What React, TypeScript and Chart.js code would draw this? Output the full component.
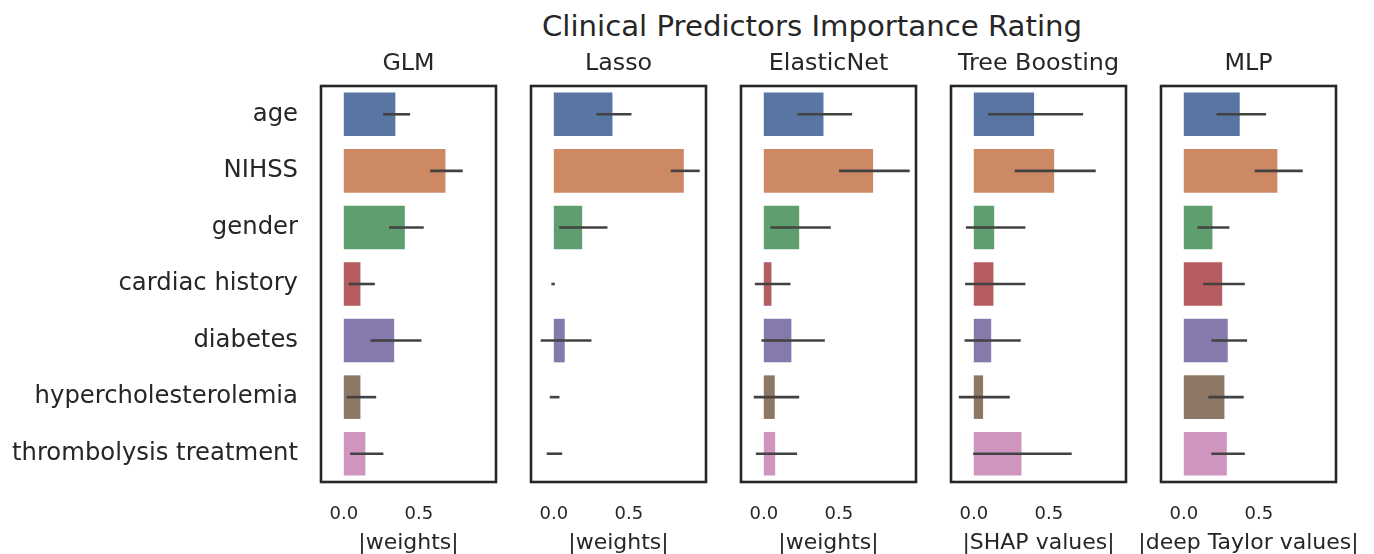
import React, { useEffect, useRef } from "react";
import { Chart, registerables } from "chart.js";

Chart.register(...registerables);

// ---------- data ----------
const categories = [
  "age",
  "NIHSS",
  "gender",
  "cardiac history",
  "diabetes",
  "hypercholesterolemia",
  "thrombolysis treatment",
];
const suptitle = "Clinical Predictors Importance Rating";
const panelTitles = ["GLM", "Lasso", "ElasticNet", "Tree Boosting", "MLP"];
const axisLabels = ["|weights|", "|weights|", "|weights|", "|SHAP values|", "|deep Taylor values|"];
const xTicks = [0, 0.5];

const glmMean = [0.344, 0.678, 0.407, 0.111, 0.336, 0.111, 0.144];
const glmLow = [0.262, 0.576, 0.302, 0.033, 0.178, 0.02, 0.042];
const glmHigh = [0.442, 0.793, 0.533, 0.207, 0.518, 0.216, 0.264];

const lassoMean = [0.391, 0.867, 0.189, 0.0, 0.073, 0.0, 0.0];
const lassoLow = [0.284, 0.78, 0.036, -0.016, -0.087, -0.027, -0.047];
const lassoHigh = [0.518, 0.973, 0.358, 0.007, 0.251, 0.038, 0.056];

const enetMean = [0.398, 0.729, 0.236, 0.051, 0.184, 0.073, 0.076];
const enetLow = [0.224, 0.502, 0.044, -0.06, -0.016, -0.067, -0.053];
const enetHigh = [0.589, 0.973, 0.447, 0.178, 0.407, 0.236, 0.222];

const treeMean = [0.402, 0.536, 0.136, 0.131, 0.116, 0.062, 0.318];
const treeLow = [0.096, 0.273, -0.053, -0.058, -0.062, -0.1, -0.004];
const treeHigh = [0.729, 0.813, 0.344, 0.344, 0.313, 0.24, 0.653];

const mlpMean = [0.373, 0.624, 0.191, 0.256, 0.293, 0.271, 0.287];
const mlpLow = [0.218, 0.473, 0.091, 0.129, 0.184, 0.164, 0.184];
const mlpHigh = [0.549, 0.793, 0.304, 0.407, 0.422, 0.4, 0.407];

const barColors = ["#5875A3", "#CC8963", "#5F9E6E", "#B55D60", "#857AAB", "#8D7866", "#D095BF"];

const panels = [
  { title: panelTitles[0], axis: axisLabels[0], mean: glmMean, low: glmLow, high: glmHigh },
  { title: panelTitles[1], axis: axisLabels[1], mean: lassoMean, low: lassoLow, high: lassoHigh },
  { title: panelTitles[2], axis: axisLabels[2], mean: enetMean, low: enetLow, high: enetHigh },
  { title: panelTitles[3], axis: axisLabels[3], mean: treeMean, low: treeLow, high: treeHigh },
  { title: panelTitles[4], axis: axisLabels[4], mean: mlpMean, low: mlpLow, high: mlpHigh },
];

// ---------- layout / style ----------
const FIG_W = 1374;
const FIG_H = 554;
const AREA_LEFT = 321;
const AREA_STEP = 210;
const AREA_W = 175;
const AREA_TOP = 86;
const AREA_BOTTOM = 482;
const SIDE_EXT = 25;
const XMIN = -0.152;
const XMAX = 1.015;
const FONT_NAME = "DejaVu Sans";
const FONT = "'DejaVu Sans', sans-serif";
const TEXT = "#262626";
const ERR_COLOR = "#424242";
const FRAME_COLOR = "#262626";
const PANEL_TITLE_SIZE = 23.8;
const PANEL_TITLE_CENTER = 64;
const AXIS_LABEL_SIZE = 22;
const AXIS_LABEL_FROM_BOTTOM = 11;

function geometry(i: number) {
  const areaLeft = AREA_LEFT + AREA_STEP * i;
  const areaRight = areaLeft + AREA_W;
  const left = i === 0 ? 0 : areaLeft - SIDE_EXT;
  const right = i === panels.length - 1 ? FIG_W : areaRight + SIDE_EXT;
  return { left, width: right - left, padLeft: areaLeft - left, padRight: right - areaRight };
}

const errorBarPlugin = (low: number[], high: number[]) => ({
  id: "errorBars",
  afterDatasetsDraw(chart: any) {
    const { ctx } = chart;
    const xs = chart.scales.x;
    const ys = chart.scales.y;
    ctx.save();
    ctx.strokeStyle = ERR_COLOR;
    ctx.lineWidth = 2.6;
    ctx.lineCap = "butt";
    low.forEach((lo, i) => {
      const py = ys.getPixelForValue(i);
      ctx.beginPath();
      ctx.moveTo(xs.getPixelForValue(lo), py);
      ctx.lineTo(xs.getPixelForValue(high[i]), py);
      ctx.stroke();
    });
    ctx.restore();
  },
});

const framePlugin = {
  id: "frame",
  afterDraw(chart: any) {
    const { ctx, chartArea } = chart;
    ctx.save();
    ctx.strokeStyle = FRAME_COLOR;
    ctx.lineWidth = 2.6;
    ctx.strokeRect(chartArea.left, chartArea.top, chartArea.right - chartArea.left, chartArea.bottom - chartArea.top);
    ctx.restore();
  },
};

const axisLabelPlugin = (text: string) => ({
  id: "axisLabel",
  afterDraw(chart: any) {
    const { ctx, chartArea } = chart;
    const xs = chart.scales.x;
    ctx.save();
    ctx.fillStyle = TEXT;
    ctx.font = `${AXIS_LABEL_SIZE}px '${FONT_NAME}', sans-serif`;
    ctx.textAlign = "center";
    ctx.textBaseline = "middle";
    ctx.fillText(text, (chartArea.left + chartArea.right) / 2, xs.bottom - AXIS_LABEL_FROM_BOTTOM);
    ctx.restore();
  },
});

export default function App() {
  const refs = useRef<(HTMLCanvasElement | null)[]>([]);

  useEffect(() => {
    document.body.style.margin = "0";
    const titleLine = PANEL_TITLE_SIZE * 1.2;
    const titlePadTop = PANEL_TITLE_CENTER - titleLine / 2;
    const titlePadBottom = AREA_TOP - titlePadTop - titleLine;
    const charts = panels.map((p, i) => {
      const first = i === 0;
      const g = geometry(i);
      const canvas = refs.current[i] as HTMLCanvasElement;
      return new Chart(canvas, {
        type: "bar",
        data: {
          labels: categories,
          datasets: [
            {
              data: p.mean,
              backgroundColor: barColors,
              borderWidth: 0,
              barPercentage: 0.77,
              categoryPercentage: 1,
            },
          ],
        },
        options: {
          indexAxis: "y",
          responsive: false,
          animation: false,
          events: [],
          layout: {
            padding: { left: first ? 0 : g.padLeft, right: g.padRight, top: 0, bottom: 0 },
          },
          plugins: {
            legend: { display: false },
            tooltip: { enabled: false },
            title: {
              display: true,
              text: p.title,
              fullSize: false,
              color: TEXT,
              font: { family: FONT, size: PANEL_TITLE_SIZE, weight: "normal" },
              padding: { top: titlePadTop, bottom: titlePadBottom },
            },
          },
          scales: {
            x: {
              type: "linear",
              min: XMIN,
              max: XMAX,
              grid: { display: false, drawTicks: false },
              border: { display: false },
              afterBuildTicks: (s: any) => {
                s.ticks = xTicks.map((v) => ({ value: v }));
              },
              ticks: {
                callback: (v: any) => Number(v).toFixed(1),
                font: { family: FONT, size: 18 },
                color: TEXT,
                padding: 22,
                maxRotation: 0,
                autoSkip: false,
              },
              title: { display: false },
              afterFit: (s: any) => {
                s.height = FIG_H - AREA_BOTTOM;
                s.paddingLeft = 0;
                s.paddingRight = 0;
              },
            },
            y: {
              type: "category",
              display: first,
              grid: { display: false, drawTicks: false },
              border: { display: false },
              ticks: {
                font: { family: FONT, size: 24.3 },
                color: TEXT,
                padding: 23,
                autoSkip: false,
              },
              afterFit: (s: any) => {
                s.width = first ? AREA_LEFT : 0;
                s.paddingTop = 0;
                s.paddingBottom = 0;
              },
            },
          },
        } as any,
        plugins: [errorBarPlugin(p.low, p.high), framePlugin, axisLabelPlugin(p.axis)],
      });
    });
    return () => charts.forEach((c) => c.destroy());
  }, []);

  return (
    <div style={{ position: "relative", width: FIG_W, height: FIG_H, background: "#fff", overflow: "hidden" }}>
      <div
        style={{
          position: "absolute",
          left: 812,
          top: 27,
          transform: "translate(-50%, -50%)",
          fontFamily: FONT,
          fontSize: 29.2,
          lineHeight: 1,
          color: TEXT,
          whiteSpace: "nowrap",
        }}
      >
        {suptitle}
      </div>
      {panels.map((p, i) => {
        const g = geometry(i);
        return (
          <canvas
            key={p.title}
            ref={(el) => {
              refs.current[i] = el;
            }}
            width={g.width}
            height={FIG_H}
            style={{ position: "absolute", left: g.left, top: 0, width: g.width, height: FIG_H }}
          />
        );
      })}
    </div>
  );
}
